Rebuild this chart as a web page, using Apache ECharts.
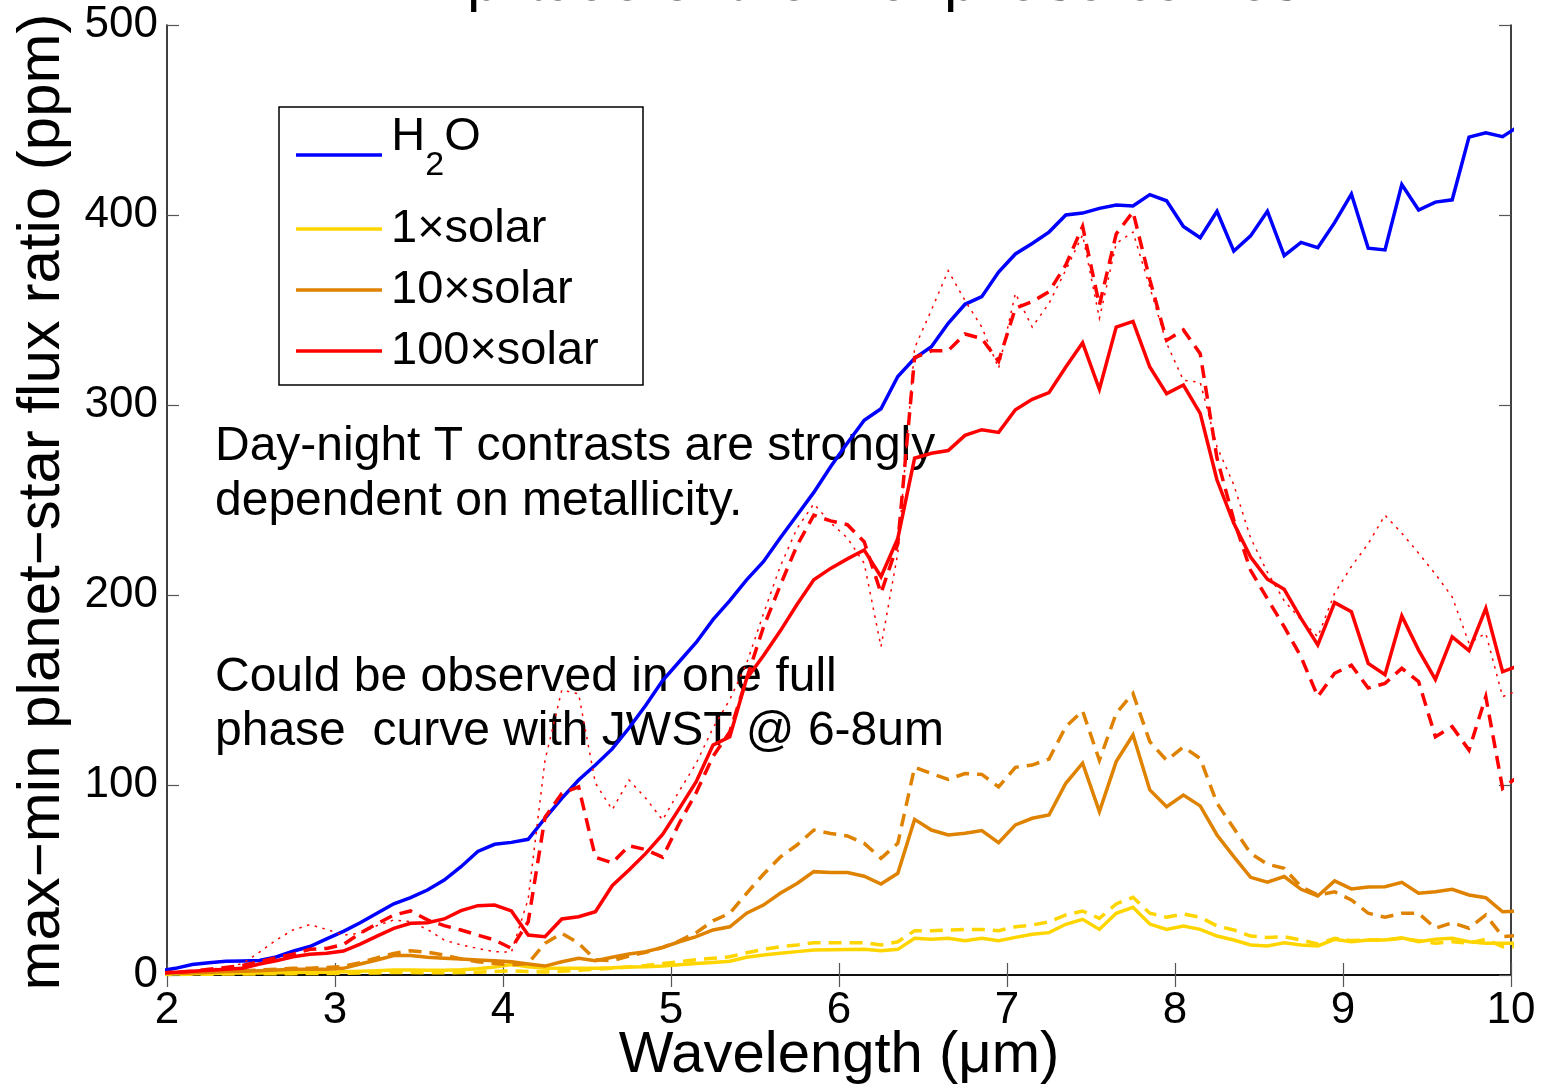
<!DOCTYPE html>
<html>
<head>
<meta charset="utf-8">
<title>Amplitude of thermal phase curves</title>
<script src="https://cdn.jsdelivr.net/npm/echarts@6/dist/echarts.min.js"></script>
<style>
  html, body { margin: 0; padding: 0; background: #fff; }
  #chart { width: 1544px; height: 1090px; }
</style>
</head>
<body>
<div id="chart"></div>
<script>
// Wavelength grid (µm); the first and last points sit just outside the 2–10 µm axis range.
const wavelength = [1.95,
  2.05, 2.15, 2.25, 2.35, 2.45, 2.55, 2.65, 2.75, 2.85, 2.95,
  3.05, 3.15, 3.25, 3.35, 3.45, 3.55, 3.65, 3.75, 3.85, 3.95,
  4.05, 4.15, 4.25, 4.35, 4.45, 4.55, 4.65, 4.75, 4.85, 4.95,
  5.05, 5.15, 5.25, 5.35, 5.45, 5.55, 5.65, 5.75, 5.85, 5.95,
  6.05, 6.15, 6.25, 6.35, 6.45, 6.55, 6.65, 6.75, 6.85, 6.95,
  7.05, 7.15, 7.25, 7.35, 7.45, 7.55, 7.65, 7.75, 7.85, 7.95,
  8.05, 8.15, 8.25, 8.35, 8.45, 8.55, 8.65, 8.75, 8.85, 8.95,
  9.05, 9.15, 9.25, 9.35, 9.45, 9.55, 9.65, 9.75, 9.85, 9.95,
  10.05];

// Max-min planet/star flux ratio, ppm
const h2o = [2.0,
  3.5, 5.5, 6.5, 7.2, 7.4, 7.6, 9.5, 12.5, 15, 19,
  23, 27.5, 32.5, 37.5, 40.7, 44.7, 50, 57, 65, 68.8,
  69.8, 71.4, 82.5, 93, 102.6, 110.5, 119, 130, 142, 155,
  165, 175, 187, 197, 208, 217.5, 230, 242, 254, 267.5,
  280, 292, 298, 315, 324.6, 330.7, 343, 353, 357, 370,
  379.5, 385, 391, 400, 401, 403.5, 405.3, 404.7, 410.7, 407.5,
  394, 388, 402, 381, 389, 402, 378.6, 385.6, 382.8, 396,
  411, 382.5, 381.6, 416, 402.6, 406.8, 408, 441, 443.3, 441.2,
  447];

const solar1 = [0.5,
  0.6, 0.7, 0.8, 0.9, 1, 1.1, 1.2, 1.3, 1.4, 1.5,
  1.7, 2, 2.3, 2.6, 2.6, 2.5, 2.5, 2.8, 3.3, 4.2,
  5.5, 4.4, 3.6, 3.5, 3.5, 3.6, 3.8, 4.2, 4.4, 4.8,
  5.4, 6, 6.6, 7.2, 9.3, 10.5, 11.4, 12.3, 13.2, 13.3,
  13.4, 13.5, 12.8, 13.5, 19.3, 18.8, 19.3, 18.1, 19.3, 18.1,
  19.8, 21.4, 22.3, 26.7, 29.3, 24, 32.5, 35.6, 26.8, 24,
  25.8, 24, 20.5, 18.4, 15.8, 15.3, 17, 15.8, 15.3, 18.8,
  17.5, 18.4, 18.4, 19.6, 17.5, 18.8, 19.3, 17.5, 16.7, 16.7,
  16.7];

const solar1Dashed = [0.3,
  0.3, 0.4, 0.4, 0.5, 0.5, 0.6, 0.6, 0.7, 0.8, 0.8,
  0.9, 1, 1.1, 1.3, 1.3, 1.2, 1.2, 1.3, 1.5, 1.8,
  2.2, 1.8, 1.6, 2, 2.5, 3, 3.5, 4.2, 5, 6,
  7, 8, 8.8, 9.6, 11.7, 13.5, 14.9, 15.8, 17, 17,
  17, 17, 15.8, 17.5, 23.3, 23.3, 23.7, 24, 24, 23.3,
  25.4, 26.3, 28, 31.6, 33.7, 29.8, 37.4, 40.9, 32.5, 30.4,
  32.1, 30.4, 25.8, 23.7, 20.5, 19.8, 20.2, 18.4, 16.3, 19.3,
  18.1, 18.4, 18.4, 19.3, 18.1, 16.7, 17.5, 16.7, 18.8, 14.9,
  14.9];

const solar10 = [1,
  1, 1.2, 1.5, 1.8, 2, 2.3, 2.6, 3, 3, 3,
  3.5, 5.8, 7.9, 10.2, 10.2, 9.3, 8.8, 8.4, 7.9, 7.5,
  7, 5.8, 4.7, 7, 8.8, 7.5, 9.3, 11, 12.3, 14.5,
  17.5, 20.2, 23.7, 25.4, 32.5, 36.8, 43, 48.2, 54.4, 54,
  53.9, 52, 47.9, 53.5, 81.9, 76.3, 73.7, 74.6, 76, 69.6,
  79, 82.5, 84.2, 100.9, 111.5, 86, 112.3, 126.3, 97.4, 88.6,
  94.7, 89, 73.7, 62.3, 51.4, 48.8, 51.8, 45.1, 41.6, 49.5,
  45.3, 46.3, 46.5, 48.8, 43, 43.8, 45.1, 42.1, 40.7, 33.3,
  33.7];

const solar10Dashed = [1,
  1, 1.2, 1.5, 2, 2.3, 2.6, 3, 3.5, 3.5, 4,
  4.5, 6.5, 9, 11.4, 12.8, 12, 10.5, 8.5, 7, 6.1,
  5.3, 6.1, 16.7, 22, 16.7, 8, 7.5, 10, 12, 14.5,
  18, 22.3, 28.5, 32.5, 43, 53, 62, 68.4, 76.3, 74.5,
  73.2, 69.3, 61.4, 69.3, 109.3, 106, 103, 106, 105.6, 99,
  109.3, 110.5, 113.7, 130.7, 139, 113, 137.7, 148.2, 122.8, 113,
  120, 114, 90.4, 77.2, 64, 58.3, 56.1, 46.5, 42.1, 43.8,
  39.5, 32.5, 30.4, 32.5, 32.5, 24.6, 27.5, 24.6, 31.6, 20.2,
  20.8];

const solar100 = [1,
  1.5, 2, 2.5, 3, 3.5, 5.8, 7.5, 9.6, 10.9, 11.4,
  12.6, 16.3, 20.5, 24.5, 27.2, 27.5, 29.5, 33.9, 36.5, 36.8,
  33.7, 21, 20.2, 29.5, 30.7, 33.3, 47, 55.3, 64, 74,
  87.7, 101.7, 121, 125.4, 156, 168, 181, 195, 208, 214,
  219, 223.7, 209.6, 229.8, 272, 274.6, 276, 284, 287, 285.6,
  297.5, 303, 306.5, 320, 332.7, 308.3, 341, 344, 320, 306,
  310.5, 295.6, 260.5, 237.7, 220, 208.3, 203, 187.7, 173.7, 196,
  191.2, 164, 158, 189, 171, 155.6, 178, 170.7, 193, 159.6,
  163];

const solar100Dashed = [1,
  1.5, 2, 3, 4, 5, 7, 9, 11, 13.5, 14,
  16, 22, 27, 31.6, 33.7, 29, 26, 23.7, 21, 18.4,
  14, 28, 83, 95.6, 99, 62, 59, 68, 66, 62,
  80, 96, 115, 128, 156, 183, 205, 226, 242, 239,
  237, 228, 201, 227, 325, 328.5, 328.6, 337.4, 335, 323,
  351, 354.4, 359.6, 373.7, 394, 352.6, 390, 401.7, 366, 334,
  339.5, 327, 272, 239.5, 213, 198, 183.3, 167.5, 146.5, 158.8,
  163, 151, 153.5, 161.4, 154.4, 125.4, 130.7, 118.4, 146.5, 98.2,
  105];

const solar100Dotted = [1,
  1.5, 2, 3, 4, 6, 12, 18.4, 23.7, 26.5, 24,
  21, 22, 26, 29, 28, 24, 18.4, 15.8, 14, 12.3,
  12, 40, 113, 150, 148, 101, 87, 102.6, 93, 81.6,
  97, 111.4, 130, 145, 164, 190, 215, 235, 248, 238,
  230, 216.7, 172.8, 222, 330, 350, 370.7, 355, 341, 319.3,
  358.8, 341, 353.5, 371, 389.5, 345.6, 385, 391, 362, 332.5,
  313, 312, 278, 258, 230, 212, 197, 187, 178, 200.9,
  215, 227, 242, 232.5, 222, 211, 199, 174.6, 179.8, 146.5,
  150];

const xTicks = [2, 3, 4, 5, 6, 7, 8, 9, 10];
const yTicks = [0, 100, 200, 300, 400, 500];
const legendNames = ['H2O', '1×solar', '10×solar', '100×solar'];

const FONT = "'Liberation Sans', Arial, Helvetica, sans-serif";
const BLUE = '#0000ff', YELLOW = '#ffd500', ORANGE = '#df8200', RED = '#ff0000';
const DASH = [13, 8], DOT = [2.5, 5.5];

function pairs(ys) {
  return wavelength.map((x, i) => [x, ys[i]]);
}

function lineSeries(name, ys, color, type, width) {
  return {
    name: name,
    type: 'line',
    data: pairs(ys),
    symbol: 'none',
    clip: true,
    smooth: false,
    animation: false,
    silent: true,
    lineStyle: { color: color, width: width, type: type, cap: 'butt', join: 'miter' },
    itemStyle: { color: color },
    emphasis: { disabled: true },
    z: 3
  };
}

const chart = echarts.init(document.getElementById('chart'), null, { renderer: 'canvas' });

const axisLineStyle = { show: true, lineStyle: { color: '#000', width: 1.5 } };
const tickStyle = { show: true, inside: true, length: 12, lineStyle: { color: '#555', width: 1.2 } };

// Legend entries: one legend block per entry so each row sits at its own height.
function legendBlock(name, top, formatter, rich) {
  const block = {
    data: [name],
    orient: 'vertical',
    left: 296,
    top: top,
    padding: 0,
    icon: 'rect',
    itemWidth: 86,
    itemHeight: 3.5,
    selectedMode: false,
    z: 10,
    textStyle: { fontSize: 47, fontFamily: FONT, color: '#000', lineHeight: 50, padding: [0, 0, 0, 4] }
  };
  if (formatter) block.formatter = formatter;
  if (rich) block.textStyle.rich = rich;
  return block;
}

const option = {
  backgroundColor: '#fff',
  animation: false,
  grid: { left: 167, top: 25, right: 33, bottom: 115, containLabel: false },
  xAxis: [
    {
      type: 'value', min: xTicks[0], max: xTicks[xTicks.length - 1], interval: 1,
      position: 'bottom',
      axisLine: axisLineStyle, axisTick: tickStyle, splitLine: { show: false },
      axisLabel: { show: true, fontSize: 44, fontFamily: FONT, color: '#000', margin: 14, lineHeight: 44,
                   showMinLabel: true, showMaxLabel: true }
    },
    {
      type: 'value', min: xTicks[0], max: xTicks[xTicks.length - 1], interval: 1,
      position: 'top',
      axisLine: axisLineStyle, axisTick: tickStyle, splitLine: { show: false },
      axisLabel: { show: false }
    }
  ],
  yAxis: [
    {
      type: 'value', min: yTicks[0], max: yTicks[yTicks.length - 1], interval: 100,
      position: 'left',
      axisLine: axisLineStyle, axisTick: tickStyle, splitLine: { show: false },
      axisLabel: { show: true, fontSize: 44, fontFamily: FONT, color: '#000', margin: 9,
                   showMinLabel: true, showMaxLabel: true }
    },
    {
      type: 'value', min: yTicks[0], max: yTicks[yTicks.length - 1], interval: 100,
      position: 'right',
      axisLine: axisLineStyle, axisTick: tickStyle, splitLine: { show: false },
      axisLabel: { show: false }
    }
  ],
  legend: [
    legendBlock(legendNames[0], 110, function () { return '{z| }{m|H}{s|2}{m|O}'; }, {
      z: { fontSize: 1, lineHeight: 90 },
      m: { fontSize: 47, fontFamily: FONT, color: '#000', height: 54, lineHeight: 54, verticalAlign: 'top' },
      s: { fontSize: 34, fontFamily: FONT, color: '#000', height: 68, lineHeight: 68, verticalAlign: 'bottom' }
    }),
    legendBlock(legendNames[1], 229 - 25),
    legendBlock(legendNames[2], 290 - 25),
    legendBlock(legendNames[3], 351 - 25)
  ],
  graphic: [
    {
      type: 'rect', z: 1, silent: true,
      shape: { x: 279, y: 107, width: 364, height: 278 },
      style: { fill: '#fff', stroke: '#000', lineWidth: 1.5 }
    },
    {
      type: 'text', z: 1, silent: true, x: 839, y: -17,
      style: { text: 'Amplitude of thermal phase curves', font: '60px ' + FONT, fill: '#000',
               align: 'center', verticalAlign: 'middle', textAlign: 'center', textVerticalAlign: 'middle' }
    },
    {
      type: 'text', z: 1, silent: true, x: 839, y: 1056,
      style: { text: 'Wavelength (μm)', font: '58px ' + FONT, fill: '#000',
               align: 'center', verticalAlign: 'middle', textAlign: 'center', textVerticalAlign: 'middle' }
    },
    {
      type: 'text', z: 1, silent: true, x: 42, y: 502, rotation: Math.PI / 2,
      style: { text: 'max−min planet−star flux ratio (ppm)', font: '60px ' + FONT, fill: '#000',
               align: 'center', verticalAlign: 'middle', textAlign: 'center', textVerticalAlign: 'middle' }
    },
    {
      type: 'text', z: 1, silent: true, x: 215, y: 447,
      style: { text: 'Day-night T contrasts are strongly', font: '48px ' + FONT, fill: '#000',
               align: 'left', verticalAlign: 'middle', textAlign: 'left', textVerticalAlign: 'middle' }
    },
    {
      type: 'text', z: 1, silent: true, x: 215, y: 502,
      style: { text: 'dependent on metallicity.', font: '48px ' + FONT, fill: '#000',
               align: 'left', verticalAlign: 'middle', textAlign: 'left', textVerticalAlign: 'middle' }
    },
    {
      type: 'text', z: 1, silent: true, x: 215, y: 678,
      style: { text: 'Could be observed in one full', font: '48px ' + FONT, fill: '#000',
               align: 'left', verticalAlign: 'middle', textAlign: 'left', textVerticalAlign: 'middle' }
    },
    {
      type: 'text', z: 1, silent: true, x: 215, y: 732,
      style: { text: 'phase  curve with JWST @ 6-8um', font: '48px ' + FONT, fill: '#000',
               align: 'left', verticalAlign: 'middle', textAlign: 'left', textVerticalAlign: 'middle' }
    }
  ],
  series: [
    lineSeries('H2O', h2o, BLUE, 'solid', 3.5),
    lineSeries('1×solar', solar1, YELLOW, 'solid', 3.5),
    lineSeries('1×solar, dashed', solar1Dashed, YELLOW, DASH, 3.5),
    lineSeries('10×solar', solar10, ORANGE, 'solid', 3.5),
    lineSeries('10×solar, dashed', solar10Dashed, ORANGE, DASH, 3.5),
    lineSeries('100×solar', solar100, RED, 'solid', 3.5),
    lineSeries('100×solar, dashed', solar100Dashed, RED, DASH, 3.5),
    lineSeries('100×solar, dotted', solar100Dotted, RED, DOT, 1.5)
  ]
};

chart.setOption(option);
</script>
</body>
</html>
